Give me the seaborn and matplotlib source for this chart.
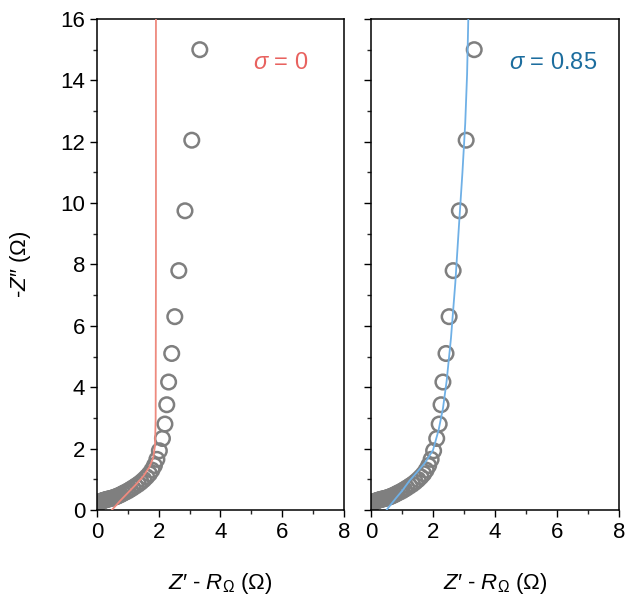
import numpy as np
import pandas as pd
import matplotlib
matplotlib.use("Agg")
import matplotlib.pyplot as plt
import seaborn as sns
from matplotlib.ticker import MultipleLocator

# ---- data ----
z_re = [0.05, 0.07, 0.09, 0.11, 0.13, 0.15, 0.18, 0.21, 0.24, 0.27, 0.30, 0.34, 0.38,
        0.42, 0.47, 0.52, 0.58, 0.64, 0.70, 0.77, 0.84, 0.92, 1.00, 1.08, 1.16, 1.25,
        1.34, 1.43, 1.52, 1.61, 1.70, 1.78, 1.86, 1.94, 2.02, 2.12, 2.20, 2.26, 2.32,
        2.42, 2.52, 2.65, 2.85, 3.07, 3.33]
z_im = [0.22, 0.24, 0.26, 0.27, 0.28, 0.29, 0.30, 0.31, 0.32, 0.33, 0.34, 0.35, 0.36,
        0.37, 0.38, 0.40, 0.42, 0.44, 0.47, 0.50, 0.54, 0.58, 0.62, 0.67, 0.72, 0.78,
        0.84, 0.91, 0.99, 1.08, 1.18, 1.30, 1.45, 1.65, 1.93, 2.33, 2.80, 3.43, 4.17,
        5.10, 6.30, 7.80, 9.75, 12.05, 15.0]

fit0_x = [0.48, 0.75, 1.00, 1.25, 1.50, 1.70, 1.82, 1.88, 1.90, 1.91, 1.91]
fit0_y = [0.00, 0.30, 0.56, 0.82, 1.10, 1.40, 1.70, 2.10, 3.00, 8.00, 16.5]

fit85_x = [0.50, 0.80, 1.00, 1.24, 1.50, 1.75, 2.00, 2.18, 2.32, 2.44, 2.58, 2.72, 2.84, 2.95, 3.04, 3.10, 3.15]
fit85_y = [0.00, 0.38, 0.62, 0.95, 1.25, 1.55, 1.95, 2.60, 3.30, 4.20, 5.60, 7.40, 9.30, 11.0, 12.6, 14.2, 16.5]

labels = ["$\\sigma$ = 0", "$\\sigma$ = 0.85"]
line_colors = ["#ee8a7e", "#6fb0e6"]
text_colors = ["#e8625f", "#1c6d9e"]

sns.set_theme(style="ticks")
plt.rcParams["font.family"] = ["Liberation Sans", "DejaVu Sans"]
plt.rcParams["mathtext.fontset"] = "custom"
plt.rcParams["mathtext.rm"] = "Liberation Sans"
plt.rcParams["mathtext.it"] = "Liberation Sans:italic"
plt.rcParams["text.color"] = "black"
plt.rcParams["axes.labelcolor"] = "black"

fig = plt.figure(figsize=(6.27, 5.99), dpi=100)
axL = fig.add_axes([0.1547, 0.1486, 0.3939, 0.8197])
axR = fig.add_axes([0.5917, 0.1486, 0.3955, 0.8197])

data = pd.DataFrame({"x": z_re, "y": z_im})
fits = [pd.DataFrame({"x": fit0_x, "y": fit0_y}), pd.DataFrame({"x": fit85_x, "y": fit85_y})]
text_x = [0.855, 0.912]

for i, ax in enumerate([axL, axR]):
    sns.scatterplot(data=data, x="x", y="y", ax=ax, marker="o", s=110,
                    facecolor="none", edgecolor="#7f7f7f", linewidth=1.8, zorder=2)
    sns.lineplot(data=fits[i], x="x", y="y", ax=ax, sort=False, estimator=None,
                 color=line_colors[i], linewidth=1.3, zorder=3)
    ax.set_xlim(0, 8)
    ax.set_ylim(0, 16)
    ax.xaxis.set_major_locator(MultipleLocator(2))
    ax.xaxis.set_minor_locator(MultipleLocator(1))
    ax.yaxis.set_major_locator(MultipleLocator(2))
    ax.yaxis.set_minor_locator(MultipleLocator(1))
    ax.tick_params(which="major", direction="out", length=5, width=1, labelsize=16, colors="black")
    ax.tick_params(which="minor", direction="out", length=3, width=1)
    for s in ax.spines.values():
        s.set_visible(True)
        s.set_linewidth(1.1)
        s.set_color("black")
    ax.set_xlabel("$Z$\u2032 - $R_{\\Omega}$ (\u03a9)", fontsize=16, labelpad=20, color="black")
    ax.text(text_x[i], 0.91, labels[i], transform=ax.transAxes, ha="right", va="center",
            fontsize=17, color=text_colors[i],
            bbox=dict(facecolor="white", edgecolor="none", pad=2))

axL.set_ylabel("-$Z$\u2033 (\u03a9)", fontsize=16, labelpad=20, color="black")
axR.set_ylabel("")
axR.tick_params(labelleft=False)

fig.savefig("out.png", dpi=100)
